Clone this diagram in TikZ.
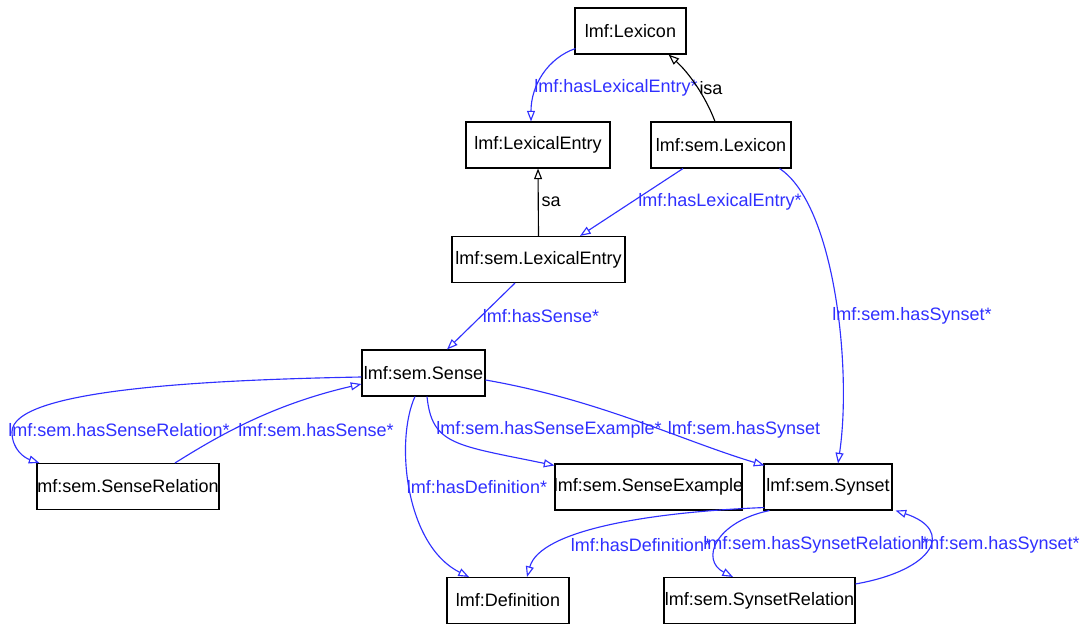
\documentclass[tikz,border=0pt]{standalone}
\usepackage{fontspec}
\setmainfont{Liberation Sans}
\usetikzlibrary{arrows.meta,calc}
\definecolor{lnk}{RGB}{48,48,255}
\begin{document}
\begin{tikzpicture}[x=0.75pt,y=-0.75pt,
  box/.style={draw, line width=0.8pt, inner sep=0pt, minimum height=34.5pt, fill=white, font=\fontsize{13.5}{16}\selectfont},
  lbl/.style={font=\fontsize{13.5}{16}\selectfont, inner sep=0pt, text=lnk},
  isalbl/.style={font=\fontsize{13.5}{16}\selectfont, inner sep=0pt, text=black},
  rel/.style={draw=lnk, line width=0.85pt, -{Triangle[open,length=8pt,width=6pt]}},
  isarel/.style={draw=black, line width=0.85pt, -{Triangle[open,length=8pt,width=6pt]}}]
\path[use as bounding box, fill=white] (0,0) rectangle (1082,624);

\node[box, minimum width=83.25pt] (lex) at (630.5,31) {\makebox[0pt]{lmf:Lexicon}};
\node[box, minimum width=108pt] (le) at (538,145) {\makebox[0pt]{lmf:LexicalEntry}};
\node[box, minimum width=105pt] (semlex) at (721,145) {\makebox[0pt]{lmf:sem.Lexicon}};
\node[box, minimum width=129.75pt] (semle) at (538.5,259.5) {\makebox[0pt]{lmf:sem.LexicalEntry}};
\node[box, minimum width=92.25pt] (sense) at (423.5,373) {\makebox[0pt]{lmf:sem.Sense}};
\node[box, minimum width=136.5pt] (sr) at (128,486.5) {\makebox[0pt]{mf:sem.SenseRelation}};
\node[box, minimum width=140.25pt] (se) at (648.5,487) {\makebox[0pt]{lmf:sem.SenseExample}};
\node[box, minimum width=96pt] (syn) at (828,487) {\makebox[0pt]{lmf:sem.Synset}};
\node[box, minimum width=91.5pt] (def) at (508,600.5) {\makebox[0pt]{lmf:Definition}};
\node[box, minimum width=143.25pt] (synrel) at (759.5,600.5) {\makebox[0pt]{lmf:sem.SynsetRelation}};

% Lexicon -> LexicalEntry
\draw[rel] ($(lex.south west)+(1,-6)$) .. controls (548,58) and (531,85) .. ($(le.north)+(-7,0)$)
  node[lbl] at (616,88) {lmf:hasLexicalEntry*};
% sem.Lexicon isa Lexicon
\draw[isarel] ($(semlex.north)+(-6,0)$) .. controls (705,95) and (688,72) .. ($(lex.south east)+(-18,0)$)
  node[isalbl] at (711,88) {isa};
% sem.LexicalEntry sa LexicalEntry
\draw[isarel] (semle.north) -- (le.south)
  node[isalbl] at (551,202) {sa};
% sem.Lexicon -> sem.LexicalEntry
\draw[rel] ($(semlex.south)+(-38,0)$) -- ($(semle.north)+(41.5,0)$)
  node[lbl] at (720,202) {lmf:hasLexicalEntry*};
% sem.Lexicon -> sem.Synset
\draw[rel] ($(semlex.south east)+(-12,0)$) .. controls (835,205) and (852,370) .. ($(syn.north)+(10,0)$)
  node[lbl] at (912,316) {lmf:sem.hasSynset*};
% sem.LexicalEntry -> sem.Sense
\draw[rel] ($(semle.south)+(-23.5,0)$) -- ($(sense.north)+(23.5,0)$)
  node[lbl] at (541,316) {lmf:hasSense*};
% sem.Sense -> SenseRelation
\draw[rel] ($(sense.west)+(0,4)$) .. controls (200,380) and (12,390) .. (12,432)
  .. controls (12,450) and (25,458) .. ($(sr.north west)+(3,0)$)
  node[lbl] at (119,430) {lmf:sem.hasSenseRelation*};
% SenseRelation -> sem.Sense
\draw[rel] ($(sr.north)+(47,0)$) .. controls (215,438) and (270,405) .. ($(sense.west)+(0,11)$)
  node[lbl] at (316,430) {lmf:sem.hasSense*};
% sem.Sense -> SenseExample
\draw[rel] ($(sense.south)+(3.5,0)$) .. controls (432,445) and (455,445) .. ($(se.north west)+(0,2)$)
  node[lbl] at (549,430) {lmf:sem.hasSenseExample*};
% sem.Sense -> sem.Synset
\draw[rel] ($(sense.east)+(0,7)$) .. controls (600,400) and (680,440) .. ($(syn.north west)+(1,2)$)
  node[lbl] at (744,430) {lmf:sem.hasSynset};
% sem.Sense -> Definition
\draw[rel] ($(sense.south)+(-8.5,0)$) .. controls (395,440) and (405,545) .. ($(def.north)+(-39,0)$)
  node[lbl] at (477,487) {lmf:hasDefinition*};
% sem.Synset -> Definition
\draw[rel] ($(syn.south west)+(1,-3)$) .. controls (650,512) and (540,530) .. ($(def.north)+(19,0)$)
  node[lbl] at (641,545) {lmf:hasDefinition*};
% sem.Synset -> SynsetRelation
\draw[rel] ($(syn.south west)+(6,0)$) .. controls (715,522) and (700,560) .. ($(synrel.north)+(-26.5,0)$)
  node[lbl] at (816,545) {lmf:sem.hasSynsetRelation*};
% SynsetRelation -> sem.Synset
\draw[rel] ($(synrel.north east)+(0,7)$) .. controls (935,570) and (955,530) .. ($(syn.south east)+(3,0)$)
  node[lbl] at (1000,545) {lmf:sem.hasSynset*};
\end{tikzpicture}
\end{document}
